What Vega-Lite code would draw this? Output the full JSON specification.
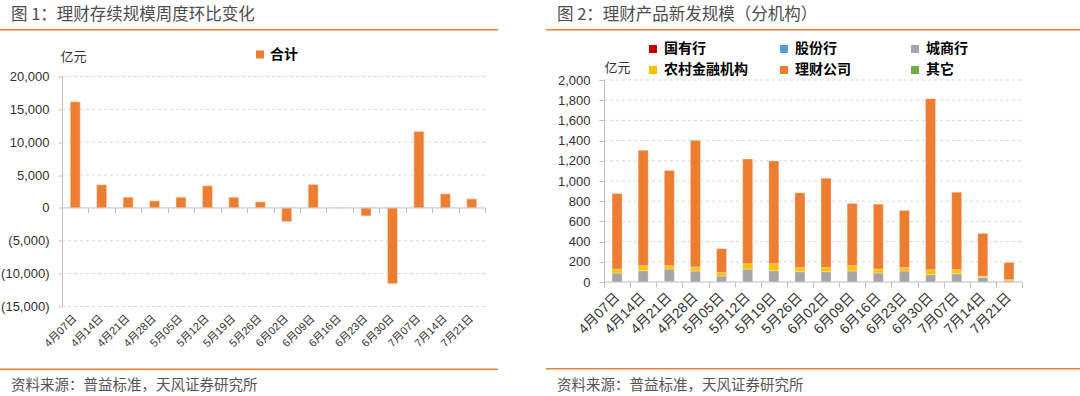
{
  "$schema": "https://vega.github.io/schema/vega-lite/v6.json",
  "padding": {"top": 6, "left": 0, "right": 0, "bottom": 0},
  "background": "white",
  "config": {
    "view": {"stroke": null},
    "font": "Liberation Sans, Noto Sans CJK SC",
    "axis": {"labelFont": "Liberation Sans, Noto Sans CJK SC", "labelColor": "#333333", "titleFont": "Noto Sans CJK SC", "titleFontWeight": "normal", "titleColor": "#333333", "labelOverlap": false}
  },
  "datasets": {
    "total": [
      {"d": "4月07日", "s": "合计", "v": 16150},
      {"d": "4月14日", "s": "合计", "v": 3520},
      {"d": "4月21日", "s": "合计", "v": 1630},
      {"d": "4月28日", "s": "合计", "v": 1070},
      {"d": "5月05日", "s": "合计", "v": 1630},
      {"d": "5月12日", "s": "合计", "v": 3370},
      {"d": "5月19日", "s": "合计", "v": 1630},
      {"d": "5月26日", "s": "合计", "v": 920},
      {"d": "6月02日", "s": "合计", "v": -2090},
      {"d": "6月09日", "s": "合计", "v": 3570},
      {"d": "6月16日", "s": "合计", "v": 0},
      {"d": "6月23日", "s": "合计", "v": -1220},
      {"d": "6月30日", "s": "合计", "v": -11530},
      {"d": "7月07日", "s": "合计", "v": 11630},
      {"d": "7月14日", "s": "合计", "v": 2140},
      {"d": "7月21日", "s": "合计", "v": 1380}
    ],
    "grid1": [{"g": -15000}, {"g": -10000}, {"g": -5000}, {"g": 5000}, {"g": 10000}, {"g": 15000}, {"g": 20000}],
    "grid2": [{"g": 200}, {"g": 400}, {"g": 600}, {"g": 800}, {"g": 1000}, {"g": 1200}, {"g": 1400}, {"g": 1600}, {"g": 1800}, {"g": 2000}],
    "zero": [{"g": 0}],
    "issue": [
      {"d": "4月07日", "inst": "城商行", "v": 89},
      {"d": "4月07日", "inst": "农村金融机构", "v": 39},
      {"d": "4月07日", "inst": "理财公司", "v": 748},
      {"d": "4月14日", "inst": "城商行", "v": 112},
      {"d": "4月14日", "inst": "农村金融机构", "v": 49},
      {"d": "4月14日", "inst": "理财公司", "v": 1144},
      {"d": "4月21日", "inst": "股份行", "v": 5},
      {"d": "4月21日", "inst": "城商行", "v": 123},
      {"d": "4月21日", "inst": "农村金融机构", "v": 33},
      {"d": "4月21日", "inst": "理财公司", "v": 943},
      {"d": "4月28日", "inst": "城商行", "v": 109},
      {"d": "4月28日", "inst": "农村金融机构", "v": 39},
      {"d": "4月28日", "inst": "理财公司", "v": 1252},
      {"d": "4月28日", "inst": "其它", "v": 7},
      {"d": "5月05日", "inst": "城商行", "v": 59},
      {"d": "5月05日", "inst": "农村金融机构", "v": 33},
      {"d": "5月05日", "inst": "理财公司", "v": 238},
      {"d": "5月12日", "inst": "城商行", "v": 128},
      {"d": "5月12日", "inst": "农村金融机构", "v": 53},
      {"d": "5月12日", "inst": "理财公司", "v": 1038},
      {"d": "5月19日", "inst": "城商行", "v": 112},
      {"d": "5月19日", "inst": "农村金融机构", "v": 69},
      {"d": "5月19日", "inst": "理财公司", "v": 1018},
      {"d": "5月26日", "inst": "城商行", "v": 102},
      {"d": "5月26日", "inst": "农村金融机构", "v": 40},
      {"d": "5月26日", "inst": "理财公司", "v": 741},
      {"d": "6月02日", "inst": "城商行", "v": 102},
      {"d": "6月02日", "inst": "农村金融机构", "v": 40},
      {"d": "6月02日", "inst": "理财公司", "v": 886},
      {"d": "6月09日", "inst": "城商行", "v": 109},
      {"d": "6月09日", "inst": "农村金融机构", "v": 52},
      {"d": "6月09日", "inst": "理财公司", "v": 617},
      {"d": "6月16日", "inst": "城商行", "v": 89},
      {"d": "6月16日", "inst": "农村金融机构", "v": 39},
      {"d": "6月16日", "inst": "理财公司", "v": 643},
      {"d": "6月23日", "inst": "城商行", "v": 109},
      {"d": "6月23日", "inst": "农村金融机构", "v": 33},
      {"d": "6月23日", "inst": "理财公司", "v": 566},
      {"d": "6月30日", "inst": "城商行", "v": 72},
      {"d": "6月30日", "inst": "农村金融机构", "v": 50},
      {"d": "6月30日", "inst": "理财公司", "v": 1693},
      {"d": "7月07日", "inst": "城商行", "v": 82},
      {"d": "7月07日", "inst": "农村金融机构", "v": 40},
      {"d": "7月07日", "inst": "理财公司", "v": 767},
      {"d": "7月14日", "inst": "城商行", "v": 46},
      {"d": "7月14日", "inst": "农村金融机构", "v": 13},
      {"d": "7月14日", "inst": "理财公司", "v": 422},
      {"d": "7月21日", "inst": "城商行", "v": 10},
      {"d": "7月21日", "inst": "农村金融机构", "v": 13},
      {"d": "7月21日", "inst": "理财公司", "v": 172},
      {"d": "7月21日", "inst": "其它", "v": 3}
    ]
  },
  "resolve": {"scale": {"color": "independent"}, "legend": {"color": "independent"}},
  "spacing": 43,
  "hconcat": [
    {
      "spacing": 16.5,
      "resolve": {"scale": {"color": "independent"}, "legend": {"color": "independent"}},
      "vconcat": [
        {
          "width": 498, "height": 1.5,
          "data": {"values": []},
          "mark": "point",
          "view": {"fill": "#ED7D31", "stroke": null},
          "title": {"text": "图 1：理财存续规模周度环比变化", "anchor": "start", "dx": 11, "offset": 6, "fontSize": 16.5, "font": "Noto Sans CJK SC", "fontWeight": "normal", "color": "#4D4D4D"}
        },
        {
          "spacing": 19,
          "resolve": {"scale": {"color": "independent"}, "legend": {"color": "independent"}},
          "vconcat": [
            {
              "width": 498, "height": 230,
              "layer": [
                {
                  "data": {"name": "grid1"},
                  "mark": {"type": "rule", "color": "#D9D9D9", "strokeDash": [3, 3], "strokeWidth": 1},
                  "encoding": {
                    "x": {"datum": "4月07日", "type": "nominal", "bandPosition": 0, "axis": null},
                    "x2": {"datum": "7月21日", "bandPosition": 1},
                    "y": {"field": "g", "type": "quantitative", "axis": null}
                  }
                },
                {
                  "data": {"name": "total"},
                  "mark": {"type": "bar", "width": 10, "color": "#ED7D31", "stroke": "#FBE0CC", "strokeWidth": 0.6},
                  "encoding": {
                    "x": {"field": "d", "type": "nominal", "sort": null, "title": null,
                      "scale": {"domain": ["4月07日", "4月14日", "4月21日", "4月28日", "5月05日", "5月12日", "5月19日", "5月26日", "6月02日", "6月09日", "6月16日", "6月23日", "6月30日", "7月07日", "7月14日", "7月21日"], "range": [62, 485], "paddingInner": 0, "paddingOuter": 0},
                      "axis": {"orient": "bottom", "domain": false, "ticks": false, "grid": false, "labelAngle": -45, "labelAlign": "right", "labelBaseline": "middle", "labelFontSize": 11, "labelPadding": 10}},
                    "y": {"field": "v", "type": "quantitative", "title": "亿元",
                      "scale": {"domain": [-15000, 20000], "nice": false},
                      "axis": {"values": [-15000, -10000, -5000, 0, 5000, 10000, 15000, 20000], "offset": -62, "labelOverlap": false,
                        "labelExpr": "datum.value < 0 ? '(' + format(-datum.value, ',') + ')' : format(datum.value, ',')",
                        "labelFontSize": 13, "labelPadding": 9, "tickSize": 4, "tickColor": "#BFBFBF", "domainColor": "#BFBFBF",
                        "grid": false,
                        "titleAngle": 0, "titleAlign": "left", "titleBaseline": "middle", "titleX": -2, "titleY": -20, "titleFontSize": 13}},
                    "color": {"field": "s", "type": "nominal", "title": null,
                      "scale": {"range": ["#ED7D31"]},
                      "legend": {"orient": "none", "legendX": 253, "legendY": -29, "symbolType": "square", "symbolSize": 64, "symbolStrokeWidth": 0, "labelFontSize": 14, "labelFontWeight": "bold", "labelFont": "Noto Sans CJK SC", "labelColor": "#000000", "labelOffset": 3, "padding": 0}}
                  }
                },
                {
                  "data": {"name": "zero"},
                  "mark": {"type": "rule", "color": "#BFBFBF", "strokeWidth": 1},
                  "encoding": {
                    "x": {"datum": "4月07日", "type": "nominal", "bandPosition": 0, "axis": null},
                    "x2": {"datum": "7月21日", "bandPosition": 1},
                    "y": {"field": "g", "type": "quantitative", "axis": null}
                  }
                },
                {
                  "data": {"name": "total"},
                  "mark": {"type": "bar", "opacity": 0},
                  "encoding": {
                    "x": {"field": "d", "type": "nominal", "sort": null, "title": null,
                      "axis": {"orient": "top", "offset": -131, "labels": false, "domain": false, "ticks": true, "tickBand": "extent", "tickSize": -5, "tickColor": "#BFBFBF", "grid": false}},
                    "y": {"field": "v", "type": "quantitative", "axis": null}
                  }
                }
              ],
              "resolve": {"axis": {"x": "independent", "y": "independent"}}
            },
            {
              "width": 498, "height": 1.5,
              "data": {"values": []},
              "mark": "point",
              "view": {"fill": "#ED7D31", "stroke": null},
              "title": {"text": "资料来源：普益标准，天风证券研究所", "orient": "bottom", "anchor": "start", "dx": 11, "offset": 9, "fontSize": 14.5, "font": "Noto Sans CJK SC", "fontWeight": "normal", "color": "#555555"}
            }
          ]
        }
      ]
    },
    {
      "spacing": 11,
      "resolve": {"scale": {"color": "independent"}, "legend": {"color": "independent"}},
      "vconcat": [
        {
          "width": 535, "height": 1.5,
          "data": {"values": []},
          "mark": "point",
          "view": {"fill": "#ED7D31", "stroke": null},
          "title": {"text": "图 2：理财产品新发规模（分机构）", "anchor": "start", "dx": 11, "offset": 6, "fontSize": 16.5, "font": "Noto Sans CJK SC", "fontWeight": "normal", "color": "#4D4D4D"}
        },
        {
          "spacing": 31,
          "resolve": {"scale": {"color": "independent"}, "legend": {"color": "independent"}},
          "vconcat": [
            {
              "width": 535, "height": 202,
              "layer": [
                {
                  "data": {"name": "grid2"},
                  "mark": {"type": "rule", "color": "#D9D9D9", "strokeDash": [3, 3], "strokeWidth": 1},
                  "encoding": {
                    "x": {"datum": "4月07日", "type": "nominal", "bandPosition": 0, "axis": null},
                    "x2": {"datum": "7月21日", "bandPosition": 1},
                    "y": {"field": "g", "type": "quantitative", "axis": null}
                  }
                },
                {
                  "data": {"name": "issue"},
                  "transform": [{"calculate": "indexof(['国有行', '股份行', '城商行', '农村金融机构', '理财公司', '其它'], datum.inst)", "as": "k"}],
                  "mark": {"type": "bar", "width": 10, "stroke": "#FFFFFF", "strokeWidth": 0.5, "strokeOpacity": 0.6},
                  "encoding": {
                    "x": {"field": "d", "type": "nominal", "sort": null, "title": null,
                      "scale": {"domain": ["4月07日", "4月14日", "4月21日", "4月28日", "5月05日", "5月12日", "5月19日", "5月26日", "6月02日", "6月09日", "6月16日", "6月23日", "6月30日", "7月07日", "7月14日", "7月21日"], "range": [58, 476], "paddingInner": 0, "paddingOuter": 0},
                      "axis": {"domain": false, "ticks": true, "tickBand": "extent", "tickSize": 5, "tickColor": "#BFBFBF", "grid": false, "labelAngle": -45, "labelAlign": "right", "labelBaseline": "middle", "labelFontSize": 14, "labelPadding": 8}},
                    "y": {"field": "v", "type": "quantitative", "stack": "zero", "title": "亿元",
                      "scale": {"domain": [0, 2000], "nice": false},
                      "axis": {"values": [0, 200, 400, 600, 800, 1000, 1200, 1400, 1600, 1800, 2000], "labelExpr": "format(datum.value, ',')", "offset": -58, "labelOverlap": false,
                        "labelFontSize": 13, "labelPadding": 9, "tickSize": 5, "tickColor": "#BFBFBF", "domainColor": "#BFBFBF",
                        "grid": false,
                        "titleAngle": 0, "titleAlign": "left", "titleBaseline": "middle", "titleX": 0, "titleY": -13, "titleFontSize": 13}},
                    "order": {"field": "k", "type": "quantitative", "sort": "ascending"},
                    "color": {"field": "inst", "type": "nominal", "title": null,
                      "scale": {"domain": ["国有行", "股份行", "城商行", "农村金融机构", "理财公司", "其它"], "range": ["#C00000", "#5B9BD5", "#A5A5A5", "#FFC000", "#ED7D31", "#70AD47"]},
                      "legend": {"orient": "none", "legendX": 100, "legendY": -38, "columns": 3, "direction": "horizontal", "gridAlign": "all", "columnPadding": 29, "rowPadding": 7, "symbolType": "square", "symbolSize": 64, "symbolStrokeWidth": 0, "labelFontSize": 14, "labelFontWeight": "bold", "labelFont": "Noto Sans CJK SC", "labelColor": "#000000", "labelOffset": 4, "padding": 0}}
                  }
                },
                {
                  "data": {"name": "zero"},
                  "mark": {"type": "rule", "color": "#BFBFBF", "strokeWidth": 1},
                  "encoding": {
                    "x": {"datum": "4月07日", "type": "nominal", "bandPosition": 0, "axis": null},
                    "x2": {"datum": "7月21日", "bandPosition": 1},
                    "y": {"field": "g", "type": "quantitative", "axis": null}
                  }
                }
              ],
              "resolve": {"axis": {"x": "independent", "y": "independent"}}
            },
            {
              "width": 535, "height": 1.5,
              "data": {"values": []},
              "mark": "point",
              "view": {"fill": "#ED7D31", "stroke": null},
              "title": {"text": "资料来源：普益标准，天风证券研究所", "orient": "bottom", "anchor": "start", "dx": 11, "offset": 9, "fontSize": 14.5, "font": "Noto Sans CJK SC", "fontWeight": "normal", "color": "#555555"}
            }
          ]
        }
      ]
    }
  ]
}
